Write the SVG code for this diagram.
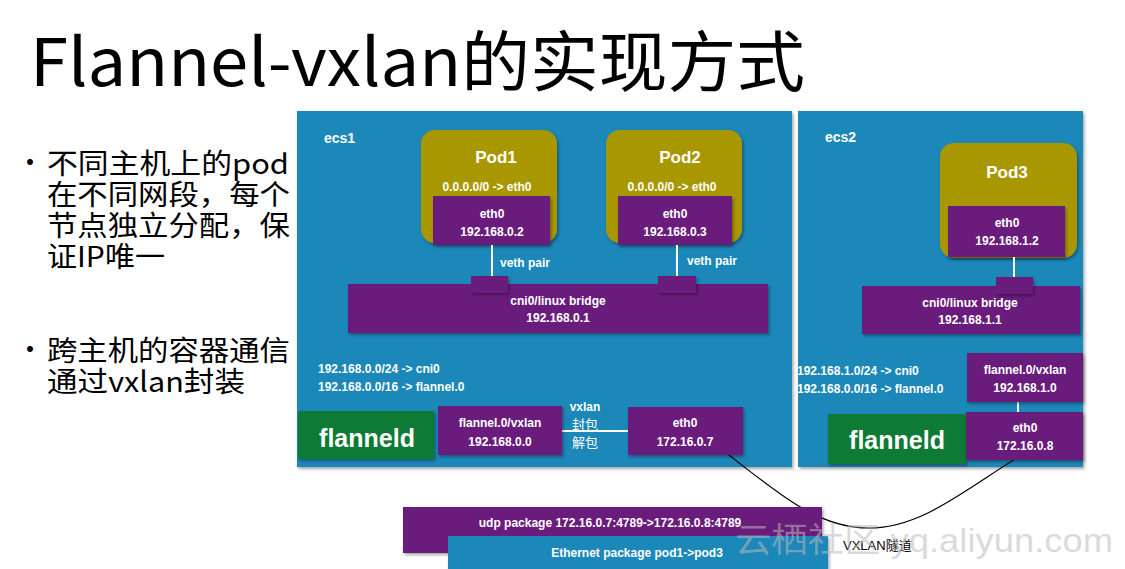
<svg xmlns="http://www.w3.org/2000/svg" width="1125" height="569" viewBox="0 0 1125 569">
<defs>
<filter id="sh" x="-10%" y="-10%" width="130%" height="140%">
<feDropShadow dx="1.5" dy="2" stdDeviation="1.5" flood-color="#000" flood-opacity="0.35"/>
</filter>
</defs>
<style>
.host{fill:#1a87b9;filter:url(#sh)}
.pod{fill:#a99700;filter:url(#sh)}
.if{fill:#6a1c7c;filter:url(#sh)}
.fd{fill:#0f7a35;filter:url(#sh)}
.w{fill:#fff;font-family:"Liberation Sans",Arial,sans-serif;font-weight:bold;font-size:12px}
.c{text-anchor:middle}
.pt{font-size:17px}
.hl{font-size:14px}
.big{font-size:25px}
.ln{stroke:#fff;stroke-width:2;fill:none}
.bul{font-family:"Noto Sans CJK SC","Liberation Sans",sans-serif;font-size:28px;fill:#000}
</style>
<rect width="1125" height="569" fill="#fff"/>
<text x="30" y="86" font-family="Noto Sans CJK SC, Liberation Sans, sans-serif" font-size="66" fill="#000" textLength="775" lengthAdjust="spacingAndGlyphs">Flannel-vxlan的实现方式</text>
<g id="bullets">
<text x="16" y="173" class="bul">•</text>
<text x="47" y="174" class="bul" textLength="242" lengthAdjust="spacingAndGlyphs">不同主机上的pod</text>
<text x="47" y="205" class="bul" textLength="243" lengthAdjust="spacingAndGlyphs">在不同网段，每个</text>
<text x="47" y="236" class="bul" textLength="243" lengthAdjust="spacingAndGlyphs">节点独立分配，保</text>
<text x="47" y="267" class="bul" textLength="118" lengthAdjust="spacingAndGlyphs">证IP唯一</text>
<text x="16" y="360" class="bul">•</text>
<text x="47" y="361" class="bul" textLength="243" lengthAdjust="spacingAndGlyphs">跨主机的容器通信</text>
<text x="47" y="392" class="bul" textLength="198" lengthAdjust="spacingAndGlyphs">通过vxlan封装</text>
</g>
<g id="ecs1">
<rect class="host" x="297" y="111" width="495" height="356"/>
<text x="324" y="143" class="w hl">ecs1</text>
</g>
<g id="ecs2">
<rect class="host" x="798" y="111" width="285" height="356"/>
<text x="825" y="142" class="w hl">ecs2</text>
</g>
<g id="pod1">
<rect class="pod" x="421" y="130" width="136" height="113" rx="14"/>
<text x="496" y="163" class="w c pt">Pod1</text>
<text x="487" y="191" class="w c">0.0.0.0/0 -&gt; eth0</text>
<rect class="if" x="433" y="196" width="117" height="49"/>
<text x="492" y="218" class="w c">eth0</text>
<text x="492" y="236" class="w c">192.168.0.2</text>
</g>
<g id="pod2">
<rect class="pod" x="606" y="130" width="136" height="113" rx="14"/>
<text x="680" y="163" class="w c pt">Pod2</text>
<text x="672" y="191" class="w c">0.0.0.0/0 -&gt; eth0</text>
<rect class="if" x="618" y="196" width="114" height="49"/>
<text x="675" y="218" class="w c">eth0</text>
<text x="675" y="236" class="w c">192.168.0.3</text>
</g>
<g id="pod3">
<rect class="pod" x="940" y="143" width="137" height="115" rx="14"/>
<text x="1007" y="178" class="w c pt">Pod3</text>
<rect class="if" x="948" y="206" width="117" height="51"/>
<text x="1007" y="227" class="w c">eth0</text>
<text x="1007" y="245" class="w c">192.168.1.2</text>
</g>
<g id="bridge1">
<rect class="if" x="348" y="284" width="420" height="49"/>
<text x="558" y="305" class="w c">cni0/linux bridge</text>
<text x="558" y="322" class="w c">192.168.0.1</text>
</g>
<g id="bridge2">
<rect class="if" x="862" y="286" width="218" height="48"/>
<text x="970" y="307" class="w c">cni0/linux bridge</text>
<text x="970" y="324" class="w c">192.168.1.1</text>
</g>
<g id="connectors">
<line class="ln" x1="492" y1="245" x2="492" y2="276"/>
<line class="ln" x1="677" y1="245" x2="677" y2="276"/>
<line class="ln" x1="1014" y1="257" x2="1014" y2="277"/>
<line class="ln" x1="1018" y1="402" x2="1018" y2="412"/>
<line class="ln" x1="557" y1="431" x2="628" y2="431"/>
<path d="M725,452 C775,490 815,528 869,528 C925,528 970,485 1033,448" fill="none" stroke="#000" stroke-width="1.2"/>
<text x="500" y="267" class="w">veth pair</text>
<text x="687" y="265" class="w">veth pair</text>
</g>
<g id="port1"><rect class="if" x="471" y="276" width="37" height="17"/></g>
<g id="port2"><rect class="if" x="658" y="276" width="38" height="17"/></g>
<g id="port3"><rect class="if" x="996" y="277" width="37" height="17"/></g>
<g id="routes1">
<text x="318" y="373" class="w">192.168.0.0/24 -&gt; cni0</text>
<text x="318" y="391" class="w">192.168.0.0/16 -&gt; flannel.0</text>
</g>
<g id="routes2">
<text x="797" y="375" class="w">192.168.1.0/24 -&gt; cni0</text>
<text x="797" y="393" class="w">192.168.0.0/16 -&gt; flannel.0</text>
</g>
<g id="flanneld1">
<rect class="fd" x="298" y="411" width="136" height="48"/>
<text x="367" y="447" class="w c big">flanneld</text>
</g>
<g id="flanneld2">
<rect class="fd" x="828" y="414" width="138" height="50"/>
<text x="897" y="449" class="w c big">flanneld</text>
</g>
<g id="vxlan1">
<rect class="if" x="438" y="406" width="124" height="49"/>
<text x="500" y="427" class="w c">flannel.0/vxlan</text>
<text x="500" y="446" class="w c">192.168.0.0</text>
</g>
<g id="vxlanlabel">
<text x="585" y="411" class="w c">vxlan</text>
<text x="585" y="429" class="c" fill="#fff" font-family="Noto Sans CJK SC, sans-serif" font-size="13">封包</text>
<text x="585" y="447" class="c" fill="#fff" font-family="Noto Sans CJK SC, sans-serif" font-size="13">解包</text>
</g>
<g id="eth1">
<rect class="if" x="628" y="407" width="115" height="48"/>
<text x="685" y="427" class="w c">eth0</text>
<text x="685" y="446" class="w c">172.16.0.7</text>
</g>
<g id="vxlan2">
<rect class="if" x="967" y="353" width="116" height="49"/>
<text x="1025" y="374" class="w c">flannel.0/vxlan</text>
<text x="1025" y="392" class="w c">192.168.1.0</text>
</g>
<g id="eth2">
<rect class="if" x="966" y="412" width="117" height="48"/>
<text x="1025" y="432" class="w c">eth0</text>
<text x="1025" y="450" class="w c">172.16.0.8</text>
</g>
<g id="udp">
<rect class="if" x="403" y="507" width="419" height="46"/>
<text x="610" y="527" class="w c">udp package 172.16.0.7:4789-&gt;172.16.0.8:4789</text>
</g>
<g id="ethernet">
<rect x="448" y="536" width="380" height="33" fill="#1a87b9" filter="url(#sh)"/>
<text x="637" y="557" class="w c">Ethernet package pod1-&gt;pod3</text>
</g>
<text x="843" y="550" font-family="Liberation Sans, Noto Sans CJK SC, sans-serif" font-size="13" fill="#000">VXLAN隧道</text>
<text x="735" y="552" font-family="Liberation Sans, Noto Sans CJK SC, sans-serif" font-size="34" fill="#bbbbbb" fill-opacity="0.55" textLength="378" lengthAdjust="spacingAndGlyphs">云栖社区 yq.aliyun.com</text>
</svg>
